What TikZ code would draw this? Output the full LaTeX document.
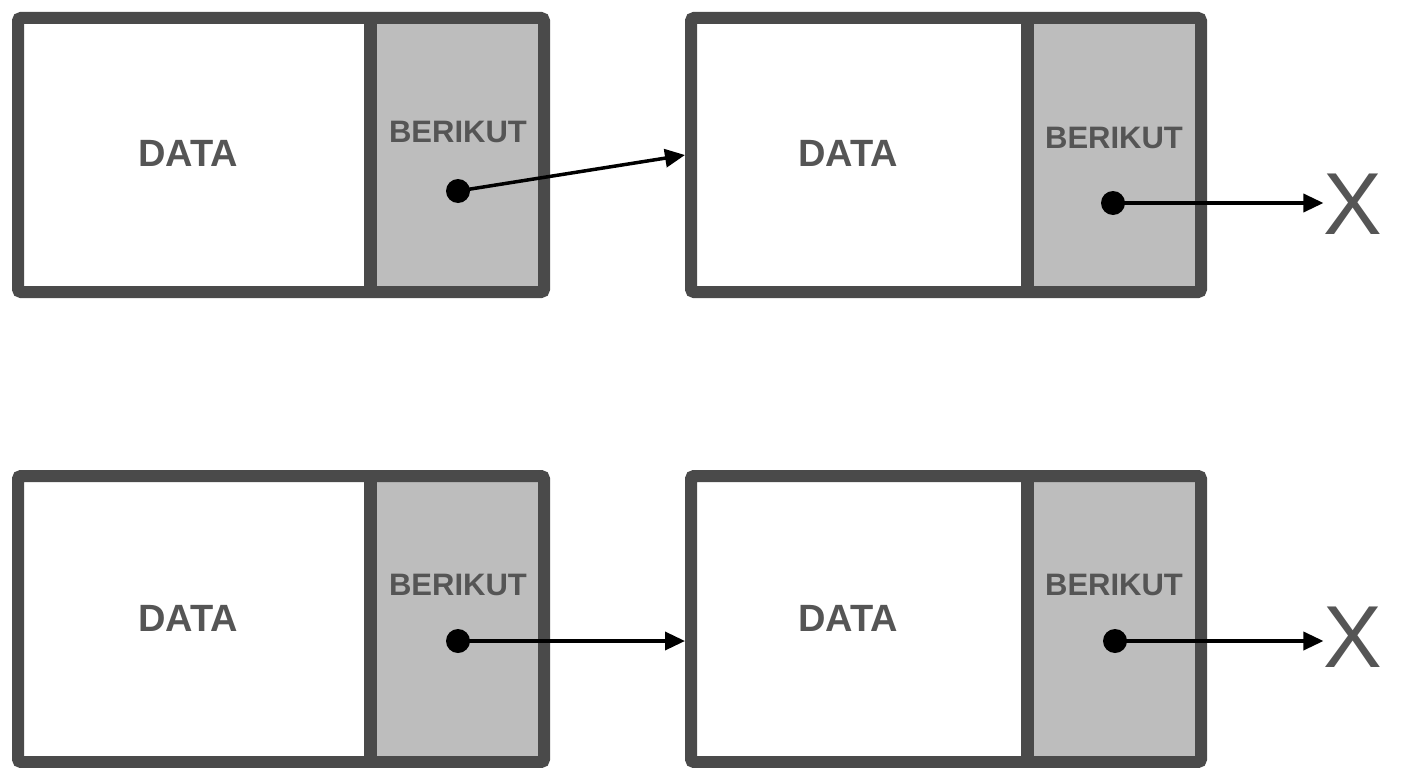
\documentclass[tikz,border=0pt]{standalone}
\usepackage{fontspec}
\setmainfont{Liberation Sans}
\usetikzlibrary{arrows.meta}
\definecolor{bd}{HTML}{4A4A4A}
\definecolor{gf}{HTML}{BDBDBD}
\definecolor{tx}{HTML}{555555}
\begin{document}
\begin{tikzpicture}[x=1pt,y=-1pt,
 box/.style={draw=bd,line width=12pt,rounded corners=3pt,inner sep=0pt,fill=white},
 lab/.style={text=tx,font=\bfseries\fontsize{38}{40}\selectfont},
 blab/.style={text=tx,font=\bfseries\fontsize{31}{33}\selectfont},
 xlab/.style={text=tx,font=\fontsize{88}{90}\selectfont,inner sep=0pt},
 dot/.style={circle,fill=black,inner sep=0pt,minimum size=24pt},
 arr/.style={line width=3.5pt,-{Triangle[length=20pt,width=18pt]}}]
\useasboundingbox (0,0) rectangle (1408,768);
\newcommand{\mynode}[6]{% name, x1, x2, ytop, ybot, xdiv
 \fill[gf] (#6,#4) rectangle (#3,#5);
 \node[box,fill=none,minimum width={#3-#2},minimum height={#5-#4}] (#1) at ({(#2+#3)/2},{(#4+#5)/2}) {};
 \draw[bd,line width=13pt] (#6,#4) -- (#6,#5);
}
\mynode{a}{18}{544}{18}{292}{370}
\mynode{b}{691}{1201}{18}{292}{1027}
\mynode{c}{18}{544}{476}{762}{370}
\mynode{d}{691}{1201}{476}{762}{1027}
\node[lab] at (188,153) {DATA};
\node[lab] at (848,153) {DATA};
\node[lab] at (188,618) {DATA};
\node[lab] at (848,618) {DATA};
\node[blab] at (458,132) {BERIKUT};
\node[blab] at (1114,138) {BERIKUT};
\node[blab] at (458,585) {BERIKUT};
\node[blab] at (1114,585) {BERIKUT};
\node[dot] (p1) at (458,191) {};
\node[dot] (p2) at (1113,203) {};
\node[dot] (p3) at (458,641) {};
\node[dot] (p4) at (1115,641) {};
\node[xlab] (x1) at (1353,204) {X};
\node[xlab] (x2) at (1353,637) {X};
\draw[arr] (p1.center) -- (b.west);
\draw[arr] (p3.center) -- (d.west |- p3);
\draw[arr] (p2.center) -- (x1.west |- p2);
\draw[arr] (p4.center) -- (x2.west |- p4);
\end{tikzpicture}
\end{document}
